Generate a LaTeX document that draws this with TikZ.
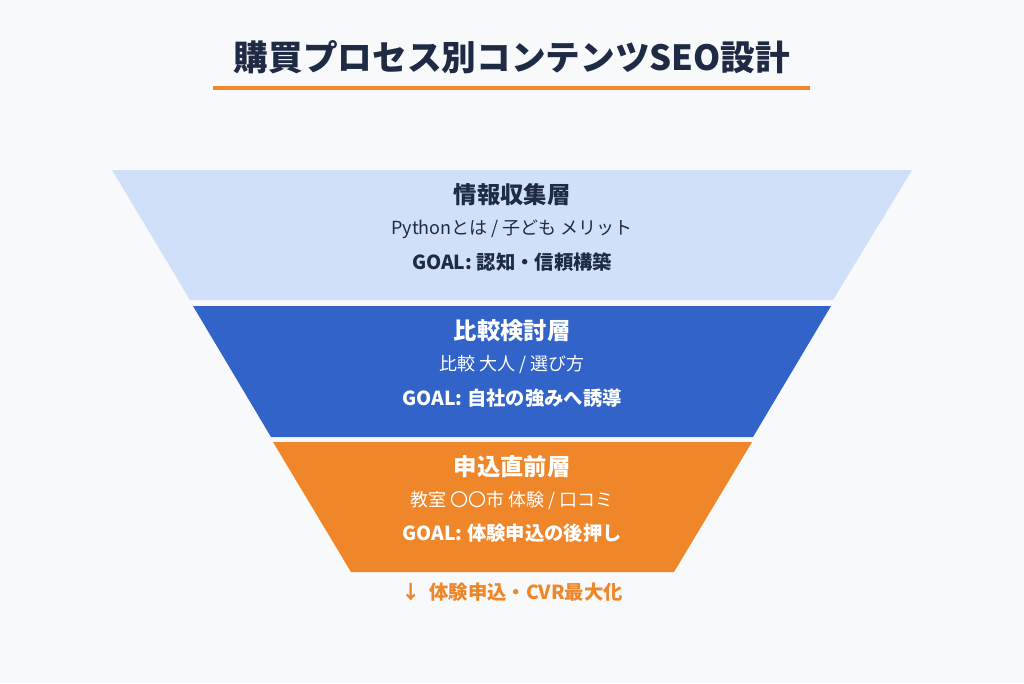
\documentclass[tikz,border=0pt]{standalone}
\usepackage{fontspec}
\setmainfont{Noto Sans CJK JP}
\definecolor{bg}{HTML}{F8F9FB}
\definecolor{navy}{HTML}{1F2A44}
\definecolor{org}{HTML}{F0862A}
\definecolor{lb}{HTML}{D0E0F8}
\definecolor{db}{HTML}{3263C8}
\begin{document}
\begin{tikzpicture}[x=0.75pt,y=-0.75pt,
  ttl/.style={font=\bfseries\fontsize{17.5}{20}\selectfont},
  sub/.style={font=\fontsize{13.5}{16}\selectfont},
  goal/.style={font=\bfseries\fontsize{14.5}{17}\selectfont}]
\fill[bg] (0,0) rectangle (1024,683);
\useasboundingbox (0,0) rectangle (1024,683);
\node[text=navy,font=\bfseries\fontsize{26}{30}\selectfont] (title) at (512,57) {購買プロセス別コンテンツSEO設計};
\coordinate (u1) at (213,88); \coordinate (u2) at (810,88);
\draw[org,line width=3pt] (u1) -- (u2);
\fill[lb] (112,170) -- (912,170) -- (833,300) -- (190,300) -- cycle;
\fill[db] (193,306) -- (831,306) -- (753,437) -- (271,437) -- cycle;
\fill[org] (273,442) -- (752,442) -- (674,572) -- (351,572) -- cycle;
\node[ttl,text=navy] (t1) at (512,195) {情報収集層};
\node[sub,text=navy] (s1) at (512,229) {Pythonとは\ /\ 子ども メリット};
\node[goal,text=navy] (g1) at (512,262) {GOAL: 認知・信頼構築};
\node[ttl,text=white] (t2) at (512,331) {比較検討層};
\node[sub,text=white] (s2) at (512,365) {比較 大人\ /\ 選び方};
\node[goal,text=white] (g2) at (512,398) {GOAL: 自社の強みへ誘導};
\node[ttl,text=white] (t3) at (512,467) {申込直前層};
\node[sub,text=white] (s3) at (512,500) {教室 〇〇市 体験\ /\ 口コミ};
\node[goal,text=white] (g3) at (512,533) {GOAL: 体験申込の後押し};
\node[goal,text=org] (cv) at (512,592) {↓\ \ 体験申込・CVR最大化};
\end{tikzpicture}
\end{document}
